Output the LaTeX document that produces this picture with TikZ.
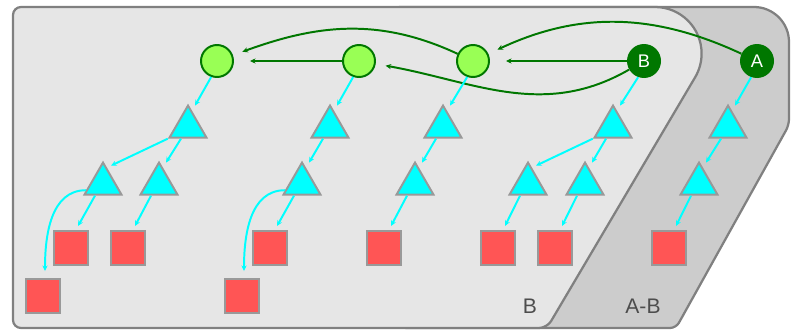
\documentclass[tikz,border=0pt]{standalone}
\usepackage{fontspec}
\setmainfont{Liberation Sans}
\usepackage{tikz}
\usetikzlibrary{arrows.meta,shapes.geometric}

\definecolor{commitfill}{HTML}{99FF55}
\definecolor{commitline}{HTML}{007700}
\definecolor{treefill}{HTML}{00FFFF}
\definecolor{areaB}{HTML}{E6E6E6}
\definecolor{areaAB}{HTML}{CCCCCC}
\definecolor{arealine}{HTML}{808080}
\definecolor{objline}{HTML}{999999}
\definecolor{blobfill}{HTML}{FF5555}
\definecolor{labelgray}{HTML}{4D4D4D}

\begin{document}
\begin{tikzpicture}[>={Stealth[length=1.4mm,width=1.3mm]},
  commitnode/.style={circle, draw=commitline, fill=commitfill, line width=1.4pt, minimum size=8mm, inner sep=0pt},
  headnode/.style={circle, fill=commitline, minimum size=8.5mm, inner sep=0pt, text=white, font=\fontsize{13}{13}\selectfont},
  treenode/.style={regular polygon, regular polygon sides=3, draw=objline, fill=treefill, line width=1.4pt, minimum size=10.7mm, inner sep=0pt},
  blobnode/.style={rectangle, draw=objline, fill=blobfill, line width=1.4pt, minimum size=8.5mm, inner sep=0pt},
  historyarrow/.style={->, draw=commitline, line width=1.4pt},
  pointerarrow/.style={->, draw=treefill, line width=1.4pt},
  areashape/.style={draw=arealine, line width=1.6pt},
  arealabel/.style={text=labelgray, font=\fontsize{15}{15}\selectfont}]
\path[use as bounding box] (0,0) rectangle (20,-8.4);

% the two areas
\draw[areashape, fill=areaAB] (10,-0.175) -- (18.85,-0.175) arc[start angle=90, end angle=0, radius=0.875]
  [rounded corners=0.15cm] -- (19.725,-3.125) -- (16.9,-8.2) -- (10,-8.2) [sharp corners] -- cycle;
\draw[areashape, fill=areaB] (8,-0.175) -- (16.375,-0.175) arc[start angle=90, end angle=-30.5, radius=1.165]
  [rounded corners=0.2cm] -- (13.675,-8.2) -- (0.325,-8.2) -- (0.325,-0.175) -- cycle;
\node[arealabel] (LB) at (13.25,-7.65) {B};
\node[arealabel] (LAB) at (16.075,-7.65) {A-B};

% commits
\node[commitnode] (C1) at (5.425,-1.525) {};
\node[commitnode] (C2) at (8.975,-1.525) {};
\node[commitnode] (C3) at (11.825,-1.525) {};
\node[headnode] (B) at (16.1,-1.525) {B};
\node[headnode] (A) at (18.925,-1.525) {A};

% trees
\node[treenode] (T1) at (4.7,-3.175) {};
\node[treenode] (T2) at (2.575,-4.6) {};
\node[treenode] (T3) at (3.975,-4.6) {};
\node[treenode] (T4) at (8.25,-3.175) {};
\node[treenode] (T5) at (7.55,-4.6) {};
\node[treenode] (T6) at (11.075,-3.175) {};
\node[treenode] (T7) at (10.375,-4.6) {};
\node[treenode] (T8) at (15.325,-3.175) {};
\node[treenode] (T9) at (13.2,-4.6) {};
\node[treenode] (T10) at (14.625,-4.6) {};
\node[treenode] (T11) at (18.2,-3.175) {};
\node[treenode] (T12) at (17.475,-4.6) {};

% blobs
\node[blobnode] (S1) at (1.775,-6.2) {};
\node[blobnode] (S2) at (3.2,-6.2) {};
\node[blobnode] (S3) at (1.075,-7.4) {};
\node[blobnode] (S4) at (6.75,-6.2) {};
\node[blobnode] (S5) at (6.05,-7.4) {};
\node[blobnode] (S6) at (9.6,-6.2) {};
\node[blobnode] (S7) at (12.45,-6.2) {};
\node[blobnode] (S8) at (13.875,-6.2) {};
\node[blobnode] (S9) at (16.725,-6.2) {};

% history
\draw[historyarrow, shorten >=0.4cm] (C2) -- (C1);
\draw[historyarrow, shorten >=0.4cm] (B) -- (C3);
\draw[historyarrow, shorten >=0.25cm] (C3) to[out=155, in=20] (C1);
\draw[historyarrow, shorten >=0.25cm] (A) to[out=155, in=25] (C3);
\draw[historyarrow, shorten >=0.25cm] (B) to[out=210, in=-10] (C2);

% pointers
\draw[pointerarrow] (C1.250) -- ([shift={(0.175,-0.05)}]T1.north);
\draw[pointerarrow] (T1.corner 2) -- ([shift={(0.2,-0.125)}]T2.north);
\draw[pointerarrow] ([xshift=-0.175cm]T1.south) -- ([shift={(0.175,-0.05)}]T3.north);
\draw[pointerarrow] ([xshift=-0.2cm]T2.south) -- ([shift={(0.175,0.1)}]S1.north);
\draw[pointerarrow] (T2.200) to[out=180, in=90] ([shift={(0.05,0.175)}]S3.north);
\draw[pointerarrow] ([xshift=-0.2cm]T3.south) -- ([shift={(0.175,0.1)}]S2.north);
\draw[pointerarrow] (C2.250) -- ([shift={(0.175,-0.05)}]T4.north);
\draw[pointerarrow] ([xshift=-0.175cm]T4.south) -- ([shift={(0.175,-0.05)}]T5.north);
\draw[pointerarrow] ([xshift=-0.2cm]T5.south) -- ([shift={(0.175,0.1)}]S4.north);
\draw[pointerarrow] (T5.200) to[out=180, in=90] ([shift={(0.05,0.175)}]S5.north);
\draw[pointerarrow] (C3.250) -- ([shift={(0.175,-0.05)}]T6.north);
\draw[pointerarrow] ([xshift=-0.175cm]T6.south) -- ([shift={(0.175,-0.05)}]T7.north);
\draw[pointerarrow] ([xshift=-0.2cm]T7.south) -- ([shift={(0.175,0.1)}]S6.north);
\draw[pointerarrow] (B.250) -- ([shift={(0.175,-0.05)}]T8.north);
\draw[pointerarrow] (T8.corner 2) -- ([shift={(0.2,-0.125)}]T9.north);
\draw[pointerarrow] ([xshift=-0.175cm]T8.south) -- ([shift={(0.175,-0.05)}]T10.north);
\draw[pointerarrow] ([xshift=-0.2cm]T9.south) -- ([shift={(0.175,0.1)}]S7.north);
\draw[pointerarrow] ([xshift=-0.2cm]T10.south) -- ([shift={(0.175,0.1)}]S8.north);
\draw[pointerarrow] (A.250) -- ([shift={(0.175,-0.05)}]T11.north);
\draw[pointerarrow] ([xshift=-0.175cm]T11.south) -- ([shift={(0.175,-0.05)}]T12.north);
\draw[pointerarrow] ([xshift=-0.2cm]T12.south) -- ([shift={(0.175,0.1)}]S9.north);
\end{tikzpicture}
\end{document}
